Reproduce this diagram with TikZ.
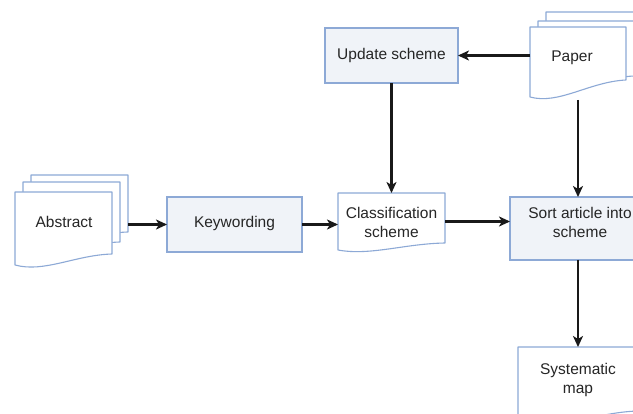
\documentclass[tikz,border=0pt]{standalone}
\usepackage{fontspec}
\setmainfont{Liberation Sans}
\usetikzlibrary{arrows.meta,calc}
\definecolor{bord}{HTML}{8DA9D6}
\definecolor{procfill}{HTML}{F0F3F8}
\tikzset{
  frame/.style={inner sep=0pt, outer sep=0pt, draw=none},
  docline/.style={draw=bord, line width=1.1pt, fill=white, line join=round},
  procbox/.style={draw=bord, line width=1.1pt, fill=procfill, inner sep=0pt, outer sep=0pt},
  lbl/.style={font=\fontsize{15.5}{19}\selectfont, align=center, inner sep=0pt, text=black!85},
  conn/.style={draw=black!90, line width=2.3pt, -{Stealth[length=11pt,width=10pt,inset=3pt]}}
}
% \docpage{node}{rise of right corner}{trough depth}
\newcommand{\docpage}[3]{%
  \path[docline] (#1.north west) -- (#1.north east) -- ([yshift=#2pt]#1.south east)
    .. controls ($(#1.south west)!0.62!(#1.south east)+(0,-#2*0.9)$)
    and ($(#1.south west)!0.3!(#1.south east)+(0,#3)$) .. (#1.south west) -- cycle;}
\begin{document}
\begin{tikzpicture}[x=1pt,y=-1pt]
\useasboundingbox (0,0) rectangle (633,414);
\clip (0,0) rectangle (633,414);
\fill[white] (0,0) rectangle (633,414);

% Abstract stack
\node[frame, minimum width=97pt, minimum height=67pt] (abs3) at (79.5,208.5) {};
\node[frame, minimum width=97pt, minimum height=70pt] (abs2) at (71.5,217) {};
\node[frame, minimum width=97pt, minimum height=73pt] (abs) at (63.5,228.5) {};
\docpage{abs3}{10}{8}
\docpage{abs2}{10}{8}
\docpage{abs}{11}{8}
\node[lbl] (absT) at (64,222) {Abstract};

% Keywording
\node[procbox, minimum width=135pt, minimum height=55pt] (kw) at (234.5,224.5) {};
\node[lbl] (kwT) at (234.5,223) {Keywording};

% Classification scheme
\node[frame, minimum width=107pt, minimum height=57pt] (cls) at (391.5,221.5) {};
\docpage{cls}{7}{6}
\node[lbl] (clsT) at (391.5,222) {Classification\\scheme};

% Update scheme
\node[procbox, minimum width=133pt, minimum height=55pt] (upd) at (391.5,55.5) {};
\node[lbl] (updT) at (391.5,55) {Update scheme};

% Paper stack
\node[frame, minimum width=96pt, minimum height=68pt] (pap3) at (594,46) {};
\node[frame, minimum width=96pt, minimum height=70pt] (pap2) at (586,56) {};
\node[frame, minimum width=96pt, minimum height=70pt] (pap) at (578,62) {};
\docpage{pap3}{15}{8}
\docpage{pap2}{15}{8}
\docpage{pap}{17}{8}
\node[lbl] (papT) at (572,58) {Paper};

% Sort article into scheme
\node[procbox, minimum width=136pt, minimum height=63pt] (srt) at (578,228.5) {};
\node[lbl] (srtT) at (580,222.5) {Sort article into\\scheme};

% Systematic map
\node[frame, minimum width=120pt, minimum height=78pt] (map) at (578,386) {};
\docpage{map}{14}{8}
\node[lbl] (mapT) at (578,380) {Systematic\\map};

% connectors
\draw[conn] (kw.west -| abs3.east) -- (kw.west);
\draw[conn] (kw.east) -- (kw.east -| cls.west);
\draw[conn] (cls.east) -- (cls.east -| srt.west);
\draw[conn] (upd.east -| pap.west) -- (upd.east);
\draw[conn] (upd.south) -- (cls.north);
\draw[conn] ([yshift=-3pt]pap.south -| srt.north) -- (srt.north);
\draw[conn] (srt.south) -- (map.north);
\end{tikzpicture}
\end{document}
